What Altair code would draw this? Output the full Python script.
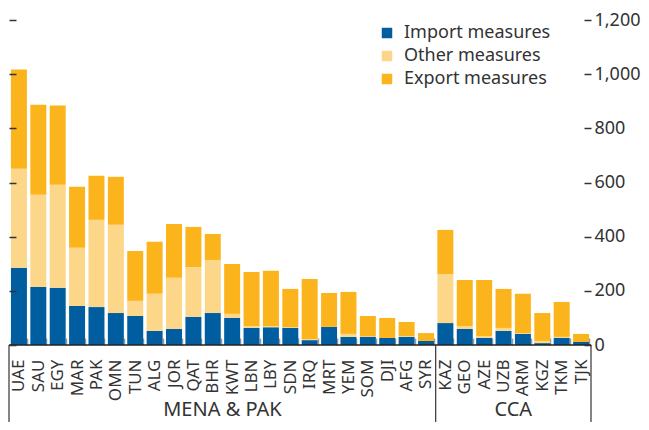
import altair as alt
import pandas as pd

cats = ["UAE", "SAU", "EGY", "MAR", "PAK", "OMN", "TUN", "ALG", "JOR", "QAT", "BHR",
        "KWT", "LBN", "LBY", "SDN", "IRQ", "MRT", "YEM", "SOM", "DJI", "AFG", "SYR",
        "KAZ", "GEO", "AZE", "UZB", "ARM", "KGZ", "TKM", "TJK"]
import_vals = [285, 214, 211, 144, 140, 118, 107, 52, 59, 104, 118,
               100, 63, 66, 63, 18, 67, 30, 30, 26, 30, 15,
               81, 59, 26, 52, 41, 7, 26, 11]
other_vals = [366, 341, 381, 215, 322, 326, 56, 137, 189, 184, 196,
              15, 7, 4, 3, 4, 0, 11, 2, 0, 3, 0,
              181, 11, 7, 11, 3, 8, 4, 0]
export_vals = [366, 332, 292, 225, 163, 177, 184, 192, 199, 148, 96,
               184, 200, 204, 141, 222, 125, 155, 75, 74, 52, 29,
               163, 170, 207, 144, 145, 103, 129, 30]
measures = ["Import measures", "Other measures", "Export measures"]
colors = ["#005EA0", "#FCD689", "#FCB41C"]
y_ticks = [0, 200, 400, 600, 800, 1000, 1200]
groups = ["MENA & PAK", "CCA"]
group_anchor = ["BHR", "UZB"]          # category after which each group label is centred
bracket_cats = ["UAE", "SYR", "TJK"]   # bracket line positions

rows = []
for i, c in enumerate(cats):
    for k, (m, vals) in enumerate(zip(measures, [import_vals, other_vals, export_vals])):
        rows.append({"cat": c, "measure": m, "value": vals[i], "ord": k})
df = pd.DataFrame(rows)

W, H = 582, 325
PAD = {"left": 1, "top": 12, "right": 50, "bottom": 77}
P_IN, P_OUT = 0.175, 0.1
STEP = W / (len(cats) - P_IN + 2 * P_OUT)
FONT = "Noto Sans"
TXT = "#333333"

xscale = alt.Scale(domain=cats, paddingInner=P_IN, paddingOuter=P_OUT)
yscale = alt.Scale(domain=[0, 1200], nice=False, zero=True)
x_axis = alt.Axis(
    title=None, labelAngle=-90, labelFontSize=17, labelColor=TXT, labelFont=FONT,
    labelPadding=14, tickBand="extent", tickSize=7, tickColor="#9a9a9a",
    tickWidth=1.5, offset=-7, domain=False, zindex=0, labelOverlap=False)

bars = alt.Chart(df).mark_bar().encode(
    x=alt.X("cat:N", scale=xscale, axis=x_axis),
    y=alt.Y("value:Q", stack="zero", scale=yscale, axis=alt.Axis(
        orient="left", title=None, labels=False, domain=False, grid=False,
        values=y_ticks, tickSize=7, offset=-7, tickColor="#333333", tickWidth=1.5,
        zindex=1, minExtent=0)),
    color=alt.Color("measure:N", scale=alt.Scale(domain=measures, range=colors),
                    legend=alt.Legend(title=None, orient="none", legendX=369, legendY=4,
                                      symbolType="square", symbolSize=110,
                                      symbolStrokeWidth=0, labelFontSize=18,
                                      labelFont=FONT, labelColor=TXT, rowPadding=5,
                                      labelOffset=8, padding=0)),
    order=alt.Order("ord:Q"),
)

baseline = alt.Chart(pd.DataFrame({"v": [0]})).mark_rule(color="#222222", strokeWidth=1.5).encode(
    y=alt.Y("v:Q", scale=yscale, axis=alt.Axis(
        orient="right", title=None, domain=False, grid=False, values=y_ticks,
        tickSize=7, offset=-7, tickColor="#333333", tickWidth=1.5, zindex=1,
        labelFontSize=18, labelFont=FONT, labelColor=TXT, labelPadding=3,
        format=",d", labelAlign="left"))
)

outer_off = P_OUT * STEP
gap_off = P_IN * STEP / 2

bracket_layers = []
for c, bp, off in zip(bracket_cats, [0, 1, 1], [-outer_off, gap_off, outer_off]):
    bracket_layers.append(
        alt.Chart(pd.DataFrame({"cat": [c]})).mark_rule(
            color="#333333", strokeWidth=1.2, xOffset=off
        ).encode(
            x=alt.X("cat:N", scale=xscale, axis=x_axis, bandPosition=bp),
            y=alt.value(H),
            y2=alt.value(H + PAD["bottom"]),
        )
    )

grp_text = alt.Chart(pd.DataFrame({"cat": group_anchor, "label": groups})).mark_text(
    fontSize=20, font=FONT, color=TXT, align="center", baseline="alphabetic", dx=gap_off
).encode(
    x=alt.X("cat:N", scale=xscale, axis=x_axis, bandPosition=1),
    y=alt.value(H + 71),
    text="label:N",
)

chart = alt.layer(bars, baseline, *bracket_layers, grp_text).resolve_axis(
    y="independent"
).properties(
    width=W, height=H, padding=PAD, autosize=alt.AutoSizeParams(type="none")
).configure_view(stroke=None).configure_axis(grid=False)

chart.save("out.html", embed_options={"renderer": "svg", "actions": False})
